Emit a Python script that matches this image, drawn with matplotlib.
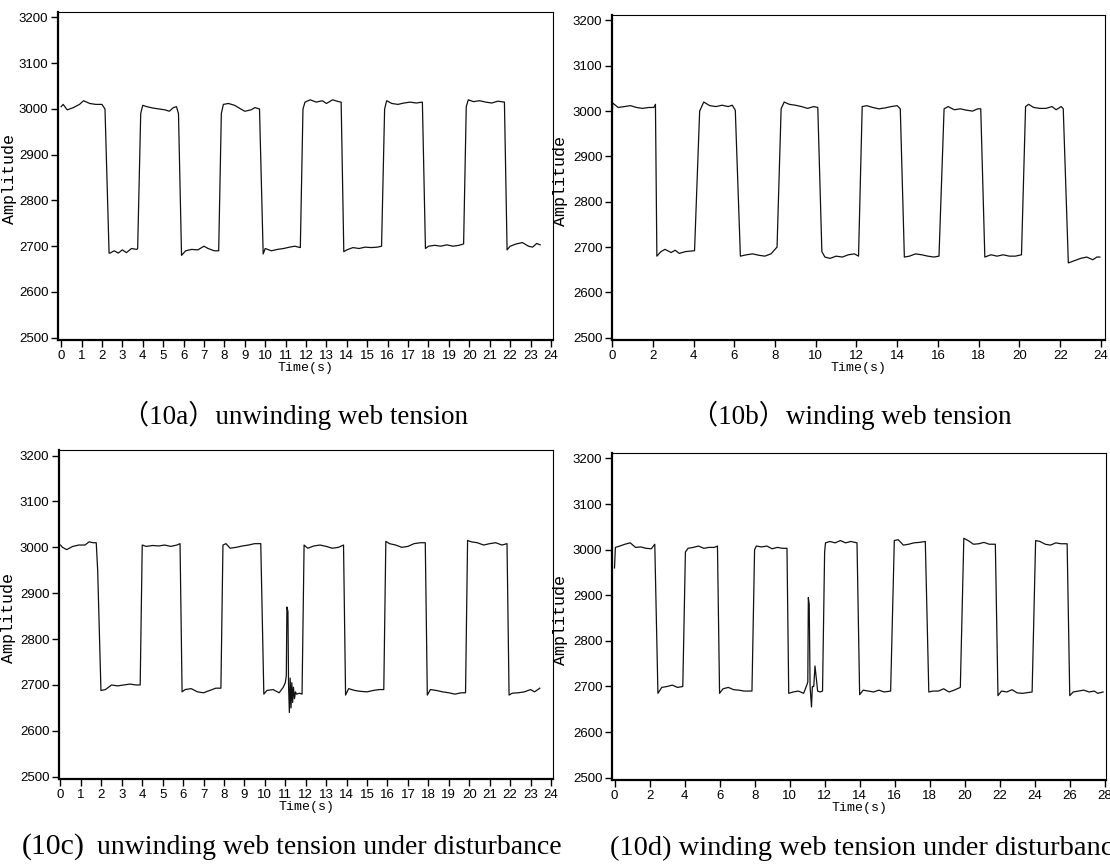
import matplotlib
matplotlib.use("Agg")
import matplotlib.pyplot as plt

# ---- data ----
t_a = [0, 0.1, 0.3, 0.6, 0.9, 1.1, 1.4, 1.7, 2.0, 2.15, 2.35,
       2.4, 2.6, 2.8, 3.0, 3.2, 3.45, 3.7, 3.75, 3.9, 4.0,
       4.2, 4.5, 4.8, 5.1, 5.3, 5.5, 5.65, 5.75, 5.9,
       6.1, 6.4, 6.7, 7.0, 7.2, 7.5, 7.72, 7.85, 7.95,
       8.2, 8.5, 8.8, 9.0, 9.3, 9.5, 9.72, 9.9,
       10.0, 10.3, 10.6, 10.9, 11.2, 11.45, 11.72, 11.85, 11.95,
       12.2, 12.5, 12.8, 13.0, 13.3, 13.6, 13.72, 13.85,
       14.0, 14.3, 14.6, 14.9, 15.2, 15.5, 15.7, 15.85, 15.95,
       16.2, 16.5, 16.8, 17.1, 17.4, 17.7, 17.85,
       18.0, 18.3, 18.6, 18.9, 19.2, 19.5, 19.72, 19.85, 19.95,
       20.2, 20.5, 20.8, 21.1, 21.4, 21.72, 21.85,
       22.0, 22.3, 22.6, 22.9, 23.1, 23.3, 23.47]
y_a = [3005, 3010, 2998, 3003, 3010, 3018, 3012, 3010, 3010, 3000, 2685,
       2685, 2690, 2685, 2692, 2686, 2695, 2693, 2695, 2990, 3008,
       3005, 3002, 3000, 2998, 2995, 3003, 3005, 2990, 2680,
       2690, 2693, 2692, 2700, 2695, 2690, 2690, 2990, 3010,
       3012, 3008, 3000, 2995, 2998, 3003, 3000, 2683,
       2695, 2690, 2693, 2695, 2698, 2700, 2697, 3000, 3015,
       3020, 3015, 3018, 3012, 3020, 3016, 3015, 2688,
       2692, 2697, 2695, 2698, 2697, 2698, 2700, 3000, 3018,
       3012, 3010, 3013, 3015, 3013, 3015, 2695,
       2700, 2702, 2700, 2703, 2700, 2702, 2705, 3005, 3020,
       3016, 3018, 3015, 3013, 3017, 3015, 2692,
       2700, 2705, 2708, 2700, 2698, 2706, 2703]

t_b = [0.0, 0.03, 0.3, 0.6, 0.9, 1.2, 1.5, 1.8, 2.05, 2.13, 2.2,
       2.4, 2.6, 2.9, 3.1, 3.3, 3.6, 4.05, 4.3, 4.5,
       4.8, 5.1, 5.4, 5.7, 5.9, 6.05, 6.3,
       6.6, 6.9, 7.2, 7.5, 7.8, 8.1, 8.3, 8.45,
       8.7, 9.0, 9.3, 9.6, 9.9, 10.1, 10.3, 10.45,
       10.7, 11.0, 11.3, 11.6, 11.9, 12.1, 12.28,
       12.5, 12.8, 13.1, 13.4, 13.7, 14.0, 14.15, 14.35,
       14.6, 14.9, 15.2, 15.5, 15.8, 16.05, 16.3,
       16.5, 16.8, 17.1, 17.4, 17.7, 17.95, 18.1, 18.3,
       18.6, 18.9, 19.2, 19.5, 19.8, 20.1, 20.3, 20.45,
       20.7, 21.0, 21.3, 21.6, 21.8, 22.05, 22.15, 22.4,
       22.7, 23.0, 23.3, 23.6, 23.8, 23.95]
y_b = [2975, 3018, 3008, 3010, 3012, 3008, 3006, 3008, 3008, 3015, 2680,
       2690, 2695, 2688, 2693, 2686, 2690, 2692, 3000, 3020,
       3012, 3010, 3013, 3010, 3013, 3002, 2680,
       2683, 2685, 2682, 2680, 2685, 2700, 3005, 3020,
       3015, 3013, 3010, 3006, 3010, 3008, 2690, 2678,
       2675, 2680, 2678, 2683, 2685, 2680, 3010,
       3012, 3008, 3005, 3007, 3010, 3012, 3005, 2678,
       2680, 2685, 2683, 2680, 2678, 2680, 3005,
       3010, 3003, 3005, 3002, 3000, 3005, 3005, 2678,
       2683, 2680, 2683, 2680, 2680, 2683, 3010, 3015,
       3008, 3006, 3006, 3010, 3003, 3010, 3005, 2665,
       2670, 2675, 2678, 2672, 2678, 2678]

t_c = [0.0, 0.1, 0.3, 0.6, 0.9, 1.2, 1.4, 1.6, 1.75, 1.82, 1.98,
       2.2, 2.5, 2.8, 3.1, 3.4, 3.7, 3.9, 4.0,
       4.2, 4.5, 4.8, 5.1, 5.4, 5.7, 5.85, 5.95,
       6.1, 6.4, 6.7, 7.0, 7.3, 7.6, 7.85, 7.95,
       8.1, 8.3, 8.6, 8.9, 9.2, 9.5, 9.8, 9.95,
       10.1, 10.4, 10.7, 10.9, 11.0, 11.05, 11.08, 11.13, 11.16, 11.2,
       11.24, 11.28, 11.32, 11.36, 11.4, 11.45, 11.5, 11.55, 11.7, 11.82, 11.92,
       12.1, 12.4, 12.7, 13.0, 13.3, 13.6, 13.85, 13.95,
       14.1, 14.4, 14.7, 15.0, 15.3, 15.6, 15.82, 15.92,
       16.1, 16.4, 16.7, 17.0, 17.3, 17.6, 17.85, 17.95,
       18.1, 18.4, 18.7, 19.0, 19.3, 19.6, 19.82, 19.92,
       20.1, 20.4, 20.7, 21.0, 21.3, 21.6, 21.85, 21.95,
       22.1, 22.4, 22.7, 23.0, 23.2, 23.45]
y_c = [3005, 3000, 2995, 3002, 3005, 3005, 3012, 3010, 3010, 2950, 2688,
       2690, 2700, 2698, 2700, 2702, 2700, 2700, 3005,
       3002, 3004, 3003, 3005, 3002, 3005, 3008, 2685,
       2690, 2692, 2685, 2683, 2688, 2693, 2693, 3005,
       3008, 2998, 3000, 3003, 3005, 3008, 3008, 2680,
       2688, 2690, 2683, 2695, 2705, 2720, 2870, 2860, 2700, 2640,
       2715, 2650, 2705, 2662, 2695, 2670, 2685, 2680, 2682, 2680, 3005,
       2998, 3003, 3005, 3002, 2998, 3000, 3005, 2678,
       2692, 2688, 2686, 2685, 2688, 2690, 2690, 3013,
       3008, 3005, 3000, 3002, 3008, 3010, 3010, 2678,
       2690, 2688, 2685, 2683, 2680, 2683, 2683, 3015,
       3012, 3010, 3005, 3008, 3010, 3005, 3008, 2678,
       2682, 2683, 2685, 2690, 2685, 2693]

t_d = [0.0, 0.05, 0.3, 0.6, 0.9, 1.2, 1.5, 1.8, 2.1, 2.3, 2.48,
       2.7, 3.0, 3.3, 3.6, 3.9, 4.05, 4.2,
       4.5, 4.8, 5.1, 5.4, 5.7, 5.88, 6.0,
       6.2, 6.5, 6.8, 7.1, 7.4, 7.85, 8.0, 8.1,
       8.4, 8.7, 9.0, 9.3, 9.6, 9.85, 9.95,
       10.2, 10.5, 10.8, 11.0, 11.04, 11.07, 11.12, 11.17, 11.25, 11.3,
       11.38, 11.45, 11.52, 11.6, 11.75, 11.88, 12.0, 12.05,
       12.3, 12.6, 12.9, 13.2, 13.5, 13.85, 14.0,
       14.2, 14.5, 14.8, 15.1, 15.4, 15.77, 15.98,
       16.2, 16.5, 16.8, 17.1, 17.4, 17.75, 17.95,
       18.2, 18.5, 18.8, 19.1, 19.4, 19.75, 19.95,
       20.2, 20.5, 20.8, 21.1, 21.4, 21.75, 21.9,
       22.1, 22.4, 22.7, 23.0, 23.3, 23.85, 24.05,
       24.3, 24.6, 24.9, 25.2, 25.5, 25.85, 26.0,
       26.2, 26.5, 26.8, 27.1, 27.4, 27.6, 27.9]
y_d = [2960, 3005, 3008, 3012, 3015, 3005, 3006, 3003, 3002, 3012, 2685,
       2698, 2700, 2703, 2698, 2700, 2995, 3003,
       3005, 3008, 3003, 3005, 3005, 3008, 2685,
       2695, 2698, 2693, 2692, 2690, 2690, 3000, 3008,
       3006, 3008, 3002, 3005, 3003, 3003, 2685,
       2688, 2690, 2685, 2705, 2710, 2895, 2880, 2700, 2655, 2700,
       2700, 2745, 2720, 2690, 2688, 2690, 2995, 3015,
       3018, 3015, 3020, 3015, 3018, 3015, 2682,
       2692, 2690, 2688, 2692, 2688, 2690, 3020,
       3022, 3010, 3012, 3015, 3016, 3018, 2688,
       2690, 2690, 2695, 2688, 2692, 2698, 3025,
       3020, 3012, 3013, 3016, 3012, 3012, 2680,
       2690, 2688, 2693, 2686, 2685, 2688, 3020,
       3018, 3012, 3010, 3015, 3013, 3013, 2680,
       2688, 2690, 2692, 2688, 2690, 2685, 2688]

y_ticks = [2500, 2600, 2700, 2800, 2900, 3000, 3100, 3200]
x_ticks_a = list(range(0, 25))
x_ticks_b = list(range(0, 25, 2))
x_ticks_c = list(range(0, 25))
x_ticks_d = list(range(0, 29, 2))

tick_font = 'Liberation Sans'
label_font = ['Liberation Mono', 'DejaVu Sans Mono']
cap_font = ['Liberation Serif', 'Noto Sans CJK SC']

fig = plt.figure(figsize=(11.1, 8.68), dpi=100)


def draw_panel(rect, t, y, xticks, xlim, ylab_x):
    ax = fig.add_axes(rect)
    ax.plot(t, y, color='#111111', lw=0.9)
    ax.set_xlim(*xlim)
    ax.set_ylim(2495, 3212)
    ax.set_xticks(xticks)
    ax.set_yticks(y_ticks)
    ax.tick_params(direction='out', length=5, width=1, pad=2, labelsize=9.5)
    for lab in ax.get_xticklabels() + ax.get_yticklabels():
        lab.set_family(tick_font)
    for s in ['left', 'bottom']:
        ax.spines[s].set_linewidth(1.6)
    for s in ['top', 'right']:
        ax.spines[s].set_linewidth(0.8)
    ax.set_xlabel('Time(s)', family=label_font, fontsize=9.5, labelpad=0)
    ax.set_ylabel('Amplitude', family=label_font, fontsize=12)
    ax.yaxis.set_label_coords(ylab_x, 0.49)
    return ax


draw_panel([0.0523, 0.6083, 0.4459, 0.3779], t_a, y_a, x_ticks_a, (-0.15, 24.1), -0.083)
draw_panel([0.5514, 0.6083, 0.4441, 0.3744], t_b, y_b, x_ticks_b, (0, 24.2), -0.089)
draw_panel([0.0532, 0.1025, 0.4450, 0.3790], t_c, y_c, x_ticks_c, (-0.07, 24.1), -0.087)
draw_panel([0.5514, 0.1014, 0.4450, 0.3767], t_d, y_d, x_ticks_d, (-0.14, 28.07), -0.089)

# captions under each panel
fig.text(295 / 1110, 1 - 415 / 868, '（10a）unwinding web tension',
         family=cap_font, fontsize=19.5, ha='center', va='center')
fig.text(851 / 1110, 1 - 415 / 868, '（10b）winding web tension',
         family=cap_font, fontsize=19.5, ha='center', va='center')
fig.text(22 / 1110, 1 - 847 / 868, '(10c)', family=cap_font, fontsize=21.5,
         ha='left', va='center')
fig.text(97 / 1110, 1 - 848 / 868, 'unwinding web tension under disturbance',
         family=cap_font, fontsize=20, ha='left', va='center')
fig.text(610 / 1110, 1 - 848 / 868, '(10d) winding web tension under disturbance',
         family=cap_font, fontsize=20.5, ha='left', va='center')

fig.savefig('out.png', dpi=100)
